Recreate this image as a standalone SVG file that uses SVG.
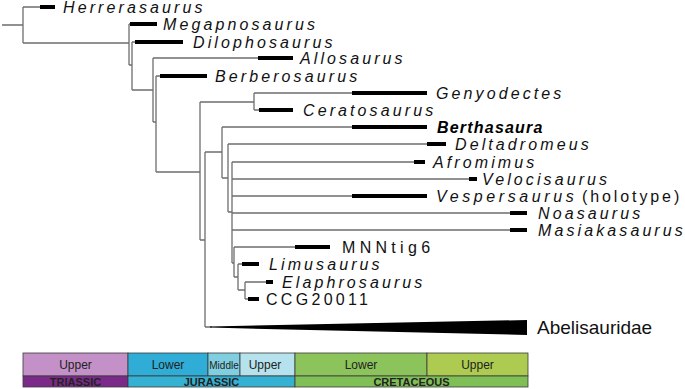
<svg xmlns="http://www.w3.org/2000/svg" width="685" height="389" viewBox="0 0 685 389">
<style>
.br{fill:none;stroke:#6e6e6e;stroke-width:1.3}
.bar{stroke:#000;stroke-width:4;fill:none}
.tx{font-family:"Liberation Sans",Arial,sans-serif;font-size:16px;font-style:italic;letter-spacing:3.1px;fill:#111}
.nm{font-family:"Liberation Sans",Arial,sans-serif;font-size:16px;letter-spacing:3.3px;fill:#111}
.bd{font-family:"Liberation Sans",Arial,sans-serif;font-size:16px;font-style:italic;font-weight:bold;letter-spacing:1.2px;fill:#000}
.cell{stroke:#3a3a3a;stroke-width:0.8}
.st{font-family:"Liberation Sans",Arial,sans-serif;font-size:12px;fill:#222;text-anchor:middle}
.pd{font-family:"Liberation Sans",Arial,sans-serif;font-size:11px;font-weight:bold;fill:#222;text-anchor:middle}
</style>
<rect width="685" height="389" fill="#fff"/>
<g id="connectors" class="br">
<path d="M2,25H23M23,7V43M23,7H40M23,43H129"/>
<path d="M129,24V65M129,24H130M129,65H132"/>
<path d="M132,42V90M132,42H135M132,90H153"/>
<path d="M153,58V122M153,58H258M153,122H156"/>
<path d="M156,76V172M156,76H160M156,172H200"/>
<path d="M200,102V240M200,102H254M200,240H205"/>
<path d="M254,93V110M254,93H352M254,110H259"/>
<path d="M205,152V327M205,152H222M205,327H212"/>
<path d="M222,127V178M222,127H352M222,178H228"/>
<path d="M228,144V212M228,144H427M228,212H232"/>
<path d="M232,162V263M232,162H414M232,179H469M232,196H352M232,213H510M232,230H510M232,263H234"/>
<path d="M234,247V277M234,247H295M234,277H238"/>
<path d="M238,264V290M238,264H242M238,290H245"/>
<path d="M245,282V299M245,282H266M245,299H248"/>
</g>
<g id="Herrerasaurus"><path class="bar" d="M40,7H55"/><text class="tx" x="63" y="12.7">Herrerasaurus</text></g>
<g id="Megapnosaurus"><path class="bar" d="M130,24H157"/><text class="tx" x="163" y="29.7">Megapnosaurus</text></g>
<g id="Dilophosaurus"><path class="bar" d="M135,42H183"/><text class="tx" x="193" y="47.7">Dilophosaurus</text></g>
<g id="Allosaurus"><path class="bar" d="M258,58H293"/><text class="tx" x="300" y="63.7">Allosaurus</text></g>
<g id="Berberosaurus"><path class="bar" d="M160,76H207"/><text class="tx" x="215" y="81.7">Berberosaurus</text></g>
<g id="Genyodectes"><path class="bar" d="M352,93H427"/><text class="tx" x="436" y="98.7">Genyodectes</text></g>
<g id="Ceratosaurus"><path class="bar" d="M259,110H293"/><text class="tx" x="303" y="115.7">Ceratosaurus</text></g>
<g id="Berthasaura"><path class="bar" d="M352,127H427"/><text class="bd" x="437" y="132.7">Berthasaura</text></g>
<g id="Deltadromeus"><path class="bar" d="M427,144H446"/><text class="tx" x="455" y="149.7">Deltadromeus</text></g>
<g id="Afromimus"><path class="bar" d="M414,162H425"/><text class="tx" x="433" y="167.7">Afromimus</text></g>
<g id="Velocisaurus"><path class="bar" d="M469,179H477"/><text class="tx" x="482" y="184.7">Velocisaurus</text></g>
<g id="Vespersaurus"><path class="bar" d="M352,196H427"/><text class="tx" x="436" y="201.7" style="letter-spacing:3.6px">Vespersaurus</text><text class="nm" x="582" y="201.7" style="letter-spacing:2.9px">(holotype)</text></g>
<g id="Noasaurus"><path class="bar" d="M510,213H527"/><text class="tx" x="538" y="218.7">Noasaurus</text></g>
<g id="Masiakasaurus"><path class="bar" d="M510,230H527"/><text class="tx" x="538" y="235.7">Masiakasaurus</text></g>
<g id="MNNtig6"><path class="bar" d="M295,247H330"/><text class="nm" x="342" y="252.7" style="letter-spacing:4.3px">MNNtig6</text></g>
<g id="Limusaurus"><path class="bar" d="M242,264H259"/><text class="tx" x="269" y="269.7">Limusaurus</text></g>
<g id="Elaphrosaurus"><path class="bar" d="M266,282H273"/><text class="tx" x="282" y="287.7">Elaphrosaurus</text></g>
<g id="CCG20011"><path class="bar" d="M248,299H259"/><text class="nm" x="266" y="304.7">CCG20011</text></g>
<g id="Abelisauridae"><path d="M210,326.5L527,320V335L210,327.6Z" fill="#000"/><text x="537" y="334" font-family="Liberation Sans,Arial,sans-serif" font-size="19" fill="#111">Abelisauridae</text></g>
<g id="timescale">
<rect class="cell" x="23" y="353" width="105" height="23" fill="#c490c8"/>
<rect class="cell" x="128" y="353" width="80" height="23" fill="#2fadd6"/>
<rect class="cell" x="208" y="353" width="32" height="23" fill="#80cfe0"/>
<rect class="cell" x="240" y="353" width="55" height="23" fill="#b6e2ee"/>
<rect class="cell" x="295" y="353" width="132" height="23" fill="#8cc45b"/>
<rect class="cell" x="427" y="353" width="101" height="23" fill="#aecb51"/>
<rect class="cell" x="23" y="376" width="105" height="11" fill="#7b2a8a"/>
<rect class="cell" x="128" y="376" width="167" height="11" fill="#35b1d3"/>
<rect class="cell" x="295" y="376" width="233" height="11" fill="#7fbf56"/>
<text class="st" x="75.5" y="368.5">Upper</text>
<text class="st" x="168" y="368.5">Lower</text>
<text class="st" x="224" y="369" style="font-size:10px">Middle</text>
<text class="st" x="265" y="368.5">Upper</text>
<text class="st" x="361" y="368.5">Lower</text>
<text class="st" x="477.5" y="368.5">Upper</text>
<text class="pd" x="75.5" y="385.5">TRIASSIC</text>
<text class="pd" x="211.5" y="385.5">JURASSIC</text>
<text class="pd" x="411.5" y="385.5">CRETACEOUS</text>
</g>
</svg>
